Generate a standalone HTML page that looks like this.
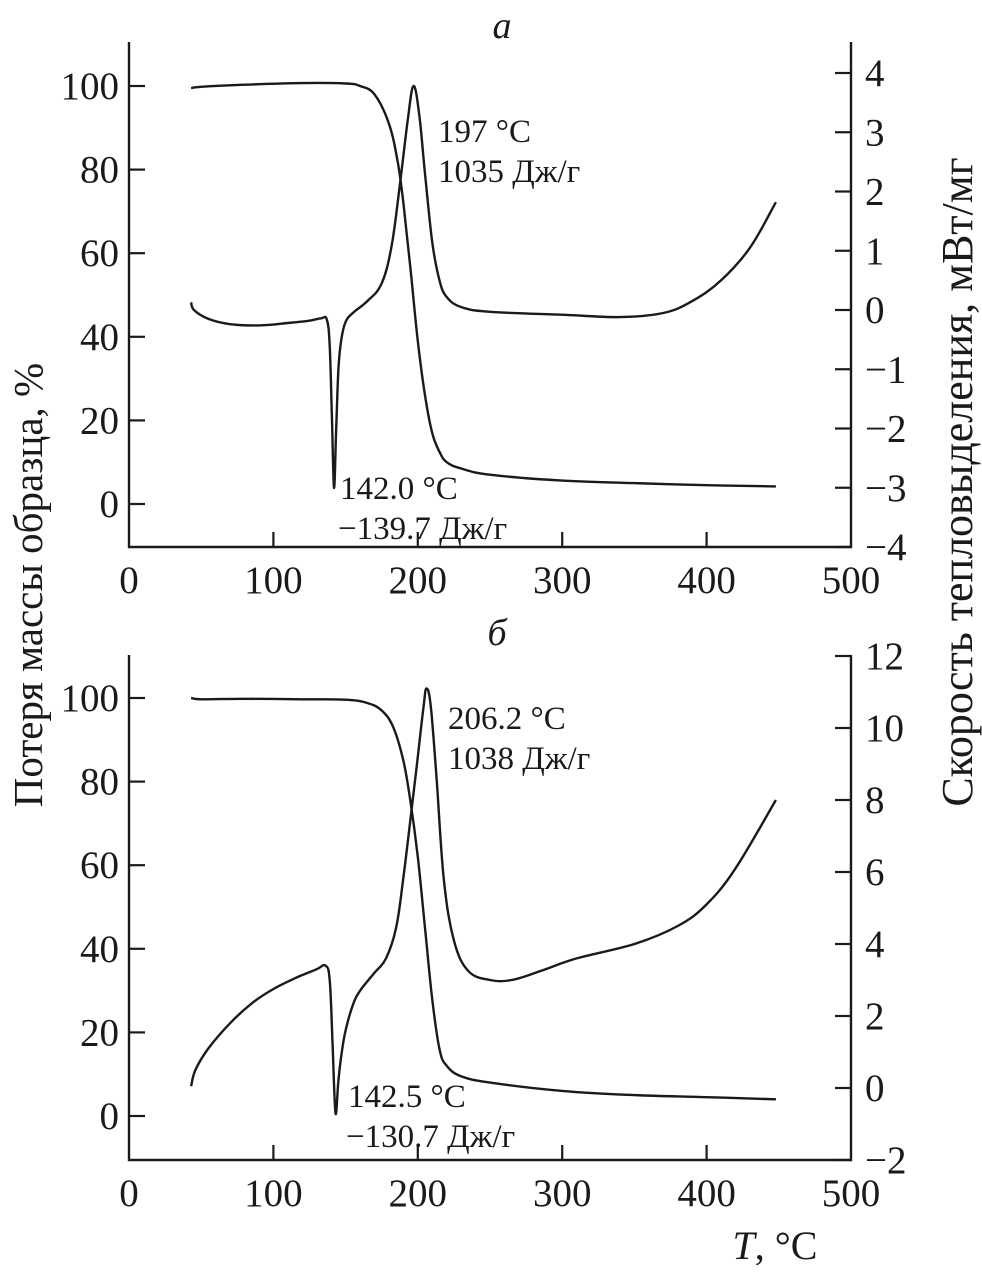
<!DOCTYPE html>
<html><head><meta charset="utf-8"><style>
html,body{margin:0;padding:0;background:#fff}
svg{display:block}
text{font-family:"Liberation Serif",serif;fill:#1a1a1a}
</style></head><body>
<svg id="chart" width="982" height="1274" viewBox="0 0 982 1274"></svg>
<script>
const xTicks=[0,100,200,300,400,500];
const leftTicks=[0,20,40,60,80,100];
const rightTicksA=[-4,-3,-2,-1,0,1,2,3,4];
const rightTicksB=[-2,0,2,4,6,8,10,12];
const tgAT=[43,50,80,120,150,160,170,180,186,190,195,200,205,210,215,220,230,250,300,350,400,448];
const tgAV=[99.5,99.8,100.3,100.7,100.6,100,98,91,82,72,56,39,26,17,12.5,10,8.5,7,5.6,5,4.5,4.2];
const dscAT=[43,45,55,70,90,110,125,133,137,139,140.5,142,143.5,145,147,150,155,165,175,182,188,193,197,201,205,210,215,220,230,250,300,340,370,390,410,430,448];
const dscAV=[0.13,0.0,-0.15,-0.24,-0.26,-0.22,-0.18,-0.14,-0.16,-0.6,-1.8,-3.0,-2.0,-1.0,-0.5,-0.2,-0.05,0.15,0.45,1.1,2.2,3.2,3.78,3.3,2.3,1.15,0.5,0.22,0.05,-0.03,-0.08,-0.12,-0.05,0.15,0.5,1.05,1.82];
const tgBT=[43,50,80,120,150,165,175,183,190,195,200,205,210,215,220,230,250,300,350,400,448];
const tgBV=[100,99.7,99.8,99.7,99.6,98.8,97,93,85,75,62,45,28,16,12,9.5,8,6,5,4.5,4];
const dscBT=[43,46,55,70,85,100,115,130,136,139,141,143,145,147,150,155,160,170,178,185,190,195,200,204,206,209,213,218,225,235,250,265,285,310,350,380,400,420,448];
const dscBV=[0.05,0.5,1.1,1.8,2.35,2.75,3.05,3.3,3.4,3.0,1.2,-0.7,0.2,0.9,1.6,2.3,2.7,3.2,3.6,4.45,5.85,7.5,9.2,10.6,11.1,10.6,8.6,5.8,4.1,3.25,3.0,3.0,3.25,3.6,4.0,4.5,5.1,6.1,8.0];

const svg=document.getElementById('chart');
const NS='http://www.w3.org/2000/svg';
function mk(tag,attrs,parent){const e=document.createElementNS(NS,tag);for(const k in attrs)e.setAttribute(k,attrs[k]);(parent||svg).appendChild(e);return e;}
const X0=129,X1=851;
const xs=v=>X0+(X1-X0)*v/500;
function smooth(pts){let d='M'+pts[0][0].toFixed(1)+','+pts[0][1].toFixed(1);
 for(let i=0;i<pts.length-1;i++){const p0=pts[Math.max(0,i-1)],p1=pts[i],p2=pts[i+1],p3=pts[Math.min(pts.length-1,i+2)];
 const t=0.18;const c1=[p1[0]+(p2[0]-p0[0])*t,p1[1]+(p2[1]-p0[1])*t],c2=[p2[0]-(p3[0]-p1[0])*t,p2[1]-(p3[1]-p1[1])*t];
 d+=' C'+c1.map(v=>v.toFixed(1)).join(',')+' '+c2.map(v=>v.toFixed(1)).join(',')+' '+p2.map(v=>v.toFixed(1)).join(',');}
 return d;}

function panel(cfg){
 const g=mk('g',{});
 
 
 const yl=v=>cfg.l0+(cfg.l100-cfg.l0)*v/100;
 const yr=v=>cfg.r0+(cfg.rTop-cfg.r0)*(v-cfg.rMin)/(cfg.rMax-cfg.rMin);
 const ax=mk('path',{d:`M${X0},${cfg.top} V${cfg.bot} H${X1} V${cfg.top}`,fill:'none',stroke:'#1a1a1a','stroke-width':2.4},g);
 
 
 xTicks.forEach(v=>{
  if(v>0&&v<500){const t=mk('line',{x1:xs(v),x2:xs(v),y1:cfg.bot,y2:cfg.bot-15,stroke:'#1a1a1a','stroke-width':2.2},g);}
  const tx=mk('text',{x:xs(v),y:cfg.bot+46,'text-anchor':'middle','font-size':39},g);tx.textContent=v;
  
  
 });
 leftTicks.forEach(v=>{
  const t=mk('line',{x1:X0,x2:X0+16,y1:yl(v),y2:yl(v),stroke:'#1a1a1a','stroke-width':2.2},g);
  const tx=mk('text',{x:X0-10,y:yl(v)+13,'text-anchor':'end','font-size':39},g);tx.textContent=v;
  
  
 });
 cfg.rTicks.forEach(v=>{
  const t=mk('line',{x1:X1,x2:X1-16,y1:yr(v),y2:yr(v),stroke:'#1a1a1a','stroke-width':2.2},g);
  const tx=mk('text',{x:X1+14,y:yr(v)+13,'text-anchor':'start','font-size':39},g);tx.textContent=(v<0?'\u2212'+(-v):v);
  
  
 });
 const tg=mk('path',{d:smooth(cfg.tgT.map((t,i)=>[xs(t),yl(cfg.tgV[i])])),fill:'none',stroke:'#1a1a1a','stroke-width':2.4},g);
 
 
 const ds=mk('path',{d:smooth(cfg.dT.map((t,i)=>[xs(t),yr(cfg.dV[i])])),fill:'none',stroke:'#1a1a1a','stroke-width':2.4},g);
 
 
 const lab=mk('text',{x:cfg.labX,y:cfg.labY,'font-size':38,'font-style':'italic','text-anchor':'middle'},g);lab.textContent=cfg.label;
 
 
 cfg.ann.forEach(a=>{const t=mk('text',{x:a[0],y:a[1],'font-size':33},g);t.textContent=a[2];
  
  });
}
panel({name:'panel-a',top:42,bot:547,l0:504,l100:86,r0:547,rTop:73,rMin:-4,rMax:4,rTicks:rightTicksA,
 tgT:tgAT,tgV:tgAV,dT:dscAT,dV:dscAV,label:'a',labX:502,labY:38,
 ann:[[438,142,'197 °C'],[438,182,'1035 Дж/г'],[340,499,'142.0 °C'],[338,539,'\u2212139.7 Дж/г']]});
panel({name:'panel-b',top:655,bot:1160,l0:1116,l100:698,r0:1160,rTop:656,rMin:-2,rMax:12,rTicks:rightTicksB,
 tgT:tgBT,tgV:tgBV,dT:dscBT,dV:dscBV,label:'б',labX:497,labY:645,
 ann:[[448,729,'206.2 °C'],[448,769,'1038 Дж/г'],[348,1107,'142.5 °C'],[346,1147,'\u2212130.7 Дж/г']]});
const lt=mk('text',{x:0,y:0,'font-size':41,'text-anchor':'middle',transform:'translate(42,585) rotate(-90)'});lt.textContent='Потеря массы образца, %';


const rt=mk('text',{x:0,y:0,'font-size':44,'text-anchor':'middle',transform:'translate(972,482) rotate(-90)'});rt.textContent='Скорость тепловыделения, мВт/мг';


const xt=mk('text',{x:775,y:1259,'font-size':40,'text-anchor':'middle'});


const ti=mk('tspan',{'font-style':'italic'},xt);ti.textContent='T';
const tr=mk('tspan',{},xt);tr.textContent=', °C';
</script>
</body></html>
